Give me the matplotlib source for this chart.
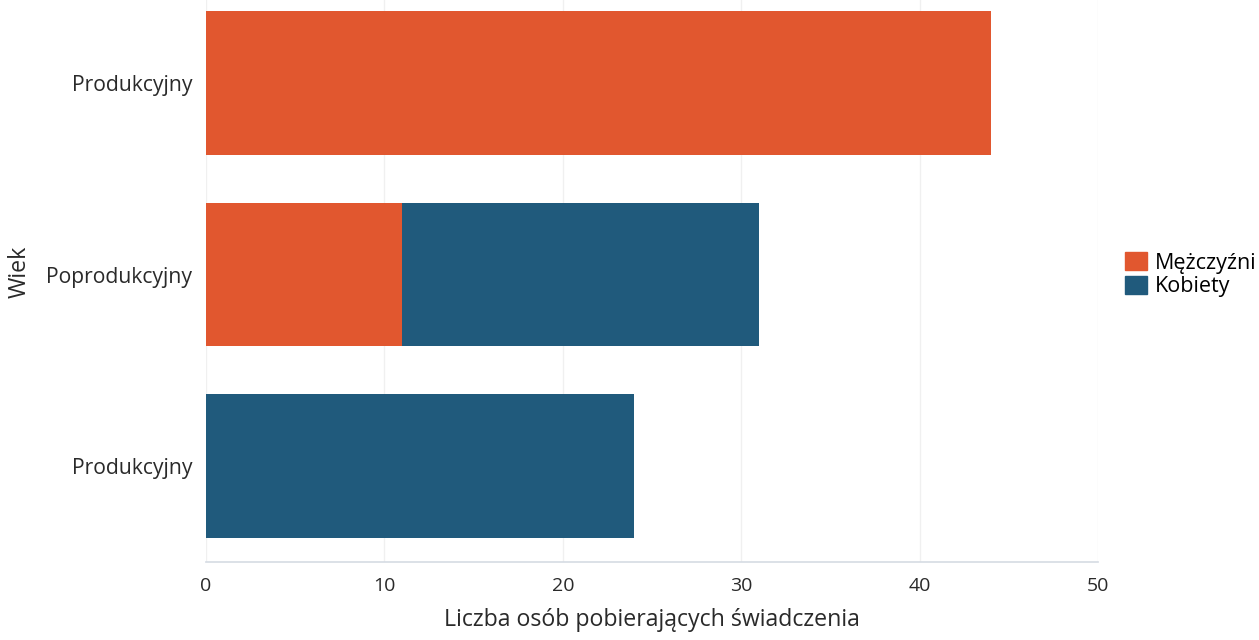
import matplotlib
matplotlib.use("Agg")
import matplotlib.pyplot as plt
from matplotlib.patches import Patch

categories = ["Produkcyjny", "Poprodukcyjny", "Produkcyjny"]  # bottom to top
men = [0, 11, 44]
women = [24, 20, 0]
series_names = ["Mężczyźni", "Kobiety"]
x_ticks = [0, 10, 20, 30, 40, 50]
x_label = "Liczba osób pobierających świadczenia"
y_label = "Wiek"

ORANGE = "#E1572F"
BLUE = "#205A7C"
TEXT = "#2a2a2a"

plt.rcParams["font.family"] = ["Open Sans", "DejaVu Sans"]

fig = plt.figure(figsize=(12.59, 6.4), dpi=100)
ax = fig.add_axes([206 / 1259, 78 / 640, (1098 - 206) / 1259, (562 + 12.75) / 640])

pos = list(range(len(categories)))
ax.barh(pos, men, height=0.75, color=ORANGE, label=series_names[0], zorder=2)
ax.barh(pos, women, left=men, height=0.75, color=BLUE, label=series_names[1], zorder=2)

ax.set_xlim(0, 50)
ax.set_ylim(-0.5, 2.5)
ax.set_yticks(pos)
ax.set_yticklabels(categories, fontsize=15.2, color=TEXT)
ax.set_xticks(x_ticks)
ax.set_xticklabels([str(t) for t in x_ticks], fontsize=14, color=TEXT)
ax.tick_params(axis="both", length=0)
ax.tick_params(axis="x", pad=11)
ax.tick_params(axis="y", pad=10)
ax.grid(axis="x", color="#f0f0f0", linewidth=1, zorder=0)
for s in ["top", "right", "left"]:
    ax.spines[s].set_visible(False)
ax.spines["bottom"].set_color("#d5dbe3")
ax.spines["bottom"].set_linewidth(1.2)

ax.set_xlabel(x_label, fontsize=16.7, color=TEXT, labelpad=9)
fig.text(20 / 1259, 1 - 272 / 640, y_label, rotation=90, fontsize=16.7,
         color=TEXT, ha="center", va="center")

handles = [Patch(color=ORANGE), Patch(color=BLUE)]
fig.legend(handles, series_names, loc="upper left",
           bbox_to_anchor=(1125 / 1259, 1 - 252 / 640), frameon=False,
           fontsize=15.5, handlelength=1.0, handleheight=0.93,
           handletextpad=0.4, labelspacing=0.1, borderaxespad=0, borderpad=0)

fig.savefig("out.png", dpi=100)
